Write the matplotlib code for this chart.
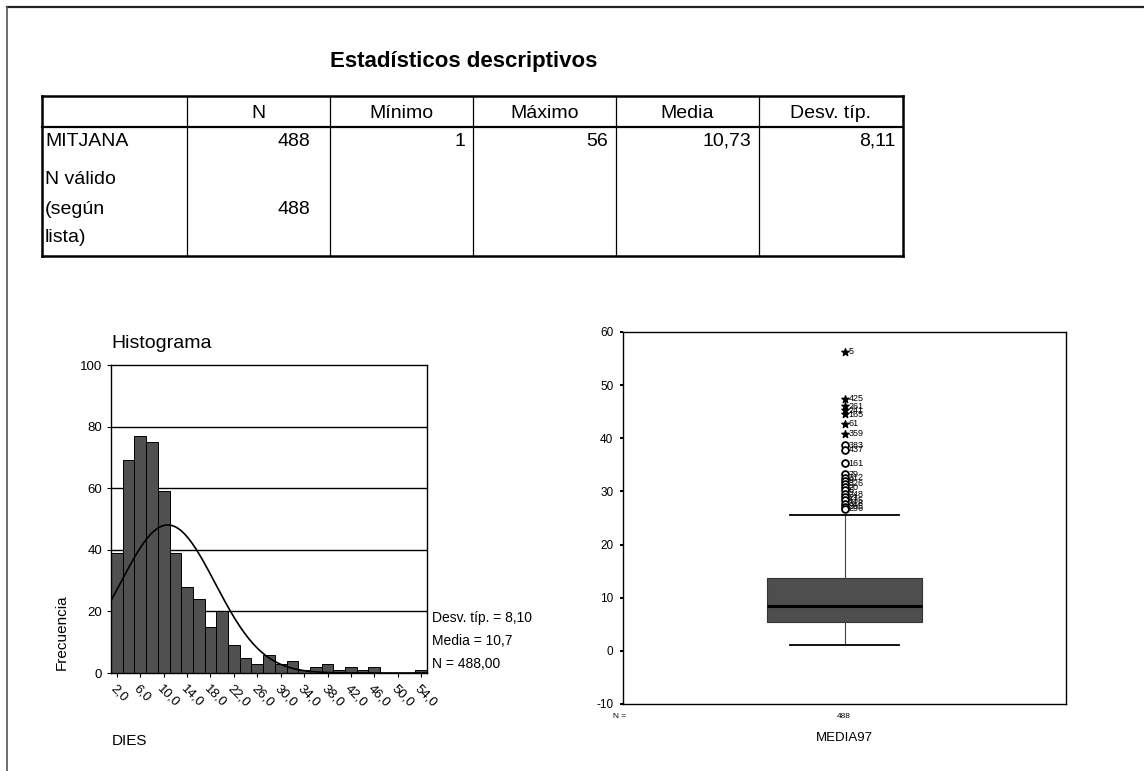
import numpy as np
import matplotlib
matplotlib.use("Agg")
import matplotlib.pyplot as plt

plt.rcParams['font.family'] = ['Liberation Sans', 'DejaVu Sans']
plt.rcParams['axes.unicode_minus'] = False

# ---------------- data ----------------
table_title = "Estadísticos descriptivos"
table_cols = ["N", "Mínimo", "Máximo", "Media", "Desv. típ."]
row1_label = "MITJANA"
row1_values = ["488", "1", "56", "10,73", "8,11"]
row2_label = ["N válido", "(según", "lista)"]
row2_values = ["488", "", "", "", ""]

hist_centers = [2, 4, 6, 8, 10, 12, 14, 16, 18, 20, 22, 24, 26, 28,
                30, 32, 34, 36, 38, 40, 42, 44, 46, 48, 50, 52, 54]
hist_counts = [39, 69, 77, 75, 59, 39, 28, 24, 15, 20, 9, 5, 3, 6,
               3, 4, 1, 2, 3, 1, 2, 1, 2, 0, 0, 0, 1]
hist_tick_labels = ["2,0", "6,0", "10,0", "14,0", "18,0", "22,0", "26,0",
                    "30,0", "34,0", "38,0", "42,0", "46,0", "50,0", "54,0"]
hist_tick_pos = [2, 6, 10, 14, 18, 22, 26, 30, 34, 38, 42, 46, 50, 54]
hist_mean = 10.7
hist_sd = 8.10
hist_n = 488
bin_width = 2.0
hist_stats_text = ["Desv. típ. = 8,10", "Media = 10,7", "N = 488,00"]

box_q1 = 5.5
box_med = 8.5
box_q3 = 13.8
box_wlo = 1.1
box_whi = 25.6
extreme_vals = [56.3, 47.4, 46.0, 45.3, 44.5, 42.7, 40.9]
extreme_labels = ["5", "425", "261", "241", "165", "61", "359"]
outlier_vals = [38.7, 37.8, 35.3, 33.2, 32.6, 32.0, 31.4, 30.8, 30.2,
                29.5, 28.9, 28.3, 27.7, 27.1, 26.7]
outlier_labels = ["383", "437", "161", "79", "312", "9", "326", "20", "6",
                  "248", "21", "135", "318", "295", "296"]
box_n = "488"
box_var = "MEDIA97"

# ---------------- figure ----------------
W, H = 1144, 771
fig = plt.figure(figsize=(W / 100, H / 100), dpi=100)
fig.patch.set_facecolor("white")


def frac(left, top, right, bottom):
    return [left / W, (H - bottom) / H, (right - left) / W, (bottom - top) / H]


# overlay in pixel coordinates for the page border and the table
ov = fig.add_axes([0, 0, 1, 1])
ov.set_xlim(0, W)
ov.set_ylim(H, 0)
ov.axis("off")

# scanned page border
ov.plot([7, W], [7, 7], color="#222222", lw=1.6)
ov.plot([7, 7], [7, H], color="#555555", lw=1.2)

# table
ov.text(464, 62, table_title, fontsize=16, fontweight="bold",
        ha="center", va="center")
col_edges = [42, 187, 330, 473, 616, 759, 903]
t_top, t_head, t_bot = 96, 127, 256
ov.plot([col_edges[0], col_edges[-1]], [t_top, t_top], color="black", lw=1.8)
ov.plot([col_edges[0], col_edges[-1]], [t_bot, t_bot], color="black", lw=1.8)
ov.plot([col_edges[0], col_edges[-1]], [t_head, t_head], color="black", lw=1.6)
for i, x in enumerate(col_edges):
    lw = 1.8 if i in (0, len(col_edges) - 1) else 0.9
    ov.plot([x, x], [t_top, t_bot], color="black", lw=lw)

fs_tab = 14
for i, c in enumerate(table_cols):
    xc = (col_edges[i + 1] + col_edges[i + 2]) / 2
    ov.text(xc, 113, c, fontsize=fs_tab, ha="center", va="center")

ov.text(col_edges[0] + 3, 141, row1_label, fontsize=fs_tab, ha="left", va="center")
for i, v in enumerate(row1_values):
    pad = 20 if i == 0 else 8
    ov.text(col_edges[i + 2] - pad, 141, v, fontsize=fs_tab, ha="right", va="center")

row2_y = [180, 209, 238]
for y, s in zip(row2_y, row2_label):
    ov.text(col_edges[0] + 3, y, s, fontsize=fs_tab, ha="left", va="center")
for i, v in enumerate(row2_values):
    pad = 20 if i == 0 else 8
    ov.text(col_edges[i + 2] - pad, row2_y[1], v, fontsize=fs_tab, ha="right", va="center")

# ---------------- histogram ----------------
ah = fig.add_axes(frac(111, 365, 427, 673))
ah.set_xlim(1, 55)
ah.set_ylim(0, 100)
for g in [20, 40, 60, 80]:
    ah.axhline(g, color="black", lw=1.0, zorder=0)
ah.bar(hist_centers, hist_counts, width=bin_width, color="#505050",
       edgecolor="black", linewidth=0.7, zorder=2)
xs = np.linspace(1, 55, 300)
ys = hist_n * bin_width / (hist_sd * np.sqrt(2 * np.pi)) * np.exp(-0.5 * ((xs - hist_mean) / hist_sd) ** 2)
ah.plot(xs, ys, color="black", lw=1.2, zorder=3)
ah.set_yticks([0, 20, 40, 60, 80, 100])
ah.tick_params(axis="y", labelsize=9.5, length=3, width=0.8)
ah.set_xticks(hist_tick_pos)
ah.set_xticklabels(hist_tick_labels, rotation=-45, ha="left", va="top",
                   rotation_mode="anchor", fontsize=9.5)
ah.tick_params(axis="x", length=3, width=0.8, pad=4)
for sp in ah.spines.values():
    sp.set_linewidth(1.0)
ah.set_title("Histograma", fontsize=14, loc="left", pad=12, x=0.0)
fig.text(62 / W, (H - 632) / H, "Frecuencia", rotation=90, fontsize=11,
         ha="center", va="center")
fig.text(112 / W, (H - 741) / H, "DIES", fontsize=11, ha="left", va="center")
for i, s in enumerate(hist_stats_text):
    fig.text(432 / W, (H - (618 + 23 * i)) / H, s, fontsize=10,
             ha="left", va="center")

# ---------------- boxplot ----------------
ab = fig.add_axes(frac(623, 332, 1066, 704))
ab.set_xlim(-1, 1)
ab.set_ylim(-10, 60)
stats = [dict(med=box_med, q1=box_q1, q3=box_q3, whislo=box_wlo,
              whishi=box_whi, fliers=[])]
ab.bxp(stats, positions=[0], widths=0.70, patch_artist=True, showfliers=False,
       boxprops=dict(facecolor="#4e4e4e", edgecolor="#333333", linewidth=0.8),
       medianprops=dict(color="black", linewidth=2.2),
       whiskerprops=dict(color="#444444", linewidth=0.8),
       capprops=dict(color="black", linewidth=1.3),
       capwidths=0.49)
ab.scatter([0] * len(outlier_vals), outlier_vals, marker="o", s=24,
           facecolor="white", edgecolor="black", linewidths=1.3, zorder=4)
ab.scatter([0] * len(extreme_vals), extreme_vals, marker="*", s=30,
           color="black", zorder=4)
for v, l in zip(extreme_vals + outlier_vals, extreme_labels + outlier_labels):
    ab.annotate(l, (0, v), xytext=(3, 0), textcoords="offset points",
                fontsize=6.5, ha="left", va="center")
ab.set_xticks([])
ab.set_yticks([-10, 0, 10, 20, 30, 40, 50, 60])
ab.tick_params(axis="y", labelsize=8.5, length=2, width=1.5, pad=5)
for sp in ab.spines.values():
    sp.set_linewidth(1.0)
fig.text(620 / W, (H - 717) / H, "N =", fontsize=6, ha="center", va="center")
fig.text(844 / W, (H - 717) / H, box_n, fontsize=6, ha="center", va="center")
fig.text(844 / W, (H - 738) / H, box_var, fontsize=9.5, ha="center", va="center")

fig.savefig("out.png", dpi=100)
